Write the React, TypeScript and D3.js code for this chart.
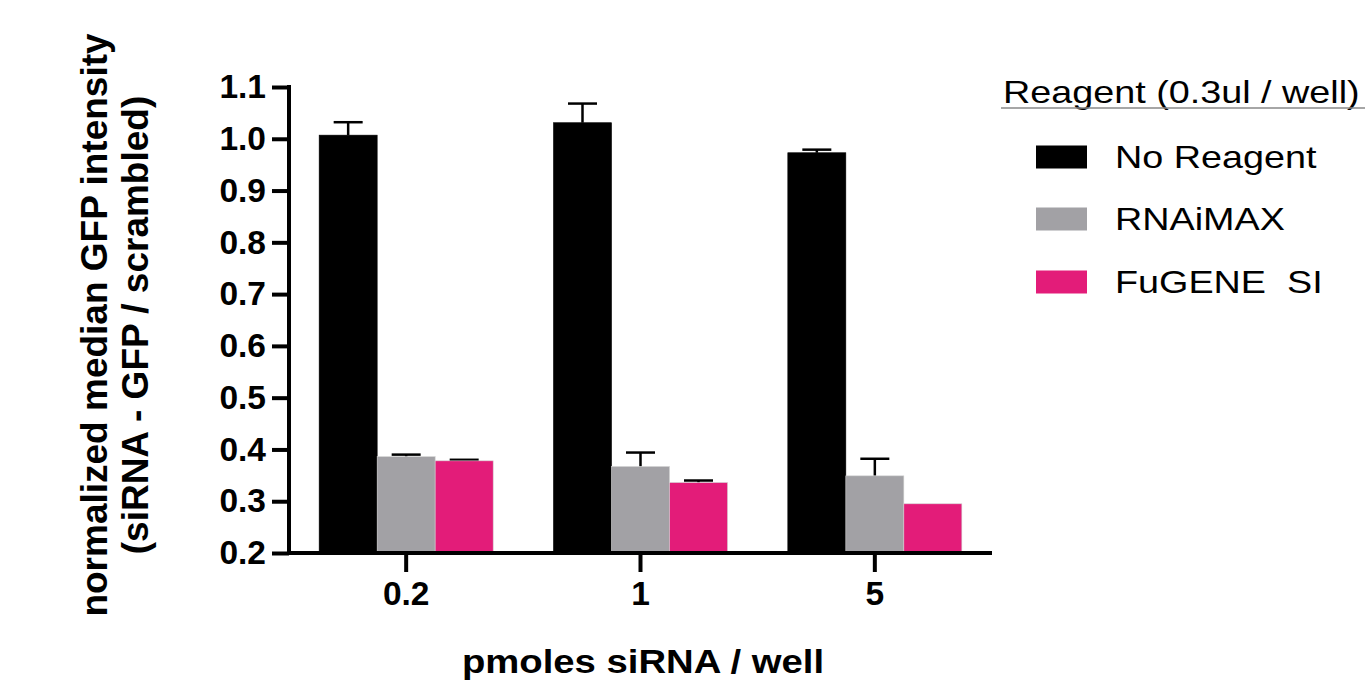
import React, { useEffect, useRef } from "react";
import * as d3 from "d3";

const doses = ["0.2", "1", "5"];
const reagents = ["No Reagent", "RNAiMAX", "FuGENE  SI"];
const colors = ["#000000", "#a2a1a5", "#e31c79"];
// means[reagent][dose]
const means = [
  [1.007, 1.031, 0.973],
  [0.386, 0.367, 0.349],
  [0.378, 0.336, 0.295],
];
// upper error bar ends
const errTops = [
  [1.032, 1.068, 0.979],
  [0.39, 0.394, 0.382],
  [0.38, 0.34, 0.295],
];
const yTicks = [0.2, 0.3, 0.4, 0.5, 0.6, 0.7, 0.8, 0.9, 1.0, 1.1];

const App = () => {
  const svgRef = useRef<SVGSVGElement>(null);

  useEffect(() => {
    const svg = d3.select(svgRef.current);
    svg.selectAll("*").remove();
    const font = "'Liberation Sans', Arial, sans-serif";

    const left = 289;
    const right = 992;
    const top = 87;
    const bottom = 553;

    const x = d3.scaleBand().domain(doses).range([left, right]).paddingInner(0).paddingOuter(0);
    const inner = d3.scaleBand().domain(reagents).range([0, x.bandwidth()]).paddingOuter(0.52).paddingInner(0);
    const y = d3.scaleLinear().domain([0.2, 1.1]).range([bottom, top]);

    const g = svg.append("g");

    // bars + upper error bars
    reagents.forEach((r, ri) => {
      doses.forEach((d, di) => {
        const bx = (x(d) as number) + (inner(r) as number);
        const bw = inner.bandwidth();
        const cx = bx + bw / 2;
        const et = errTops[ri][di];
        if (et > means[ri][di] + 0.001) {
          g.append("line")
            .attr("x1", cx).attr("x2", cx)
            .attr("y1", y(means[ri][di])).attr("y2", y(et))
            .attr("stroke", "#000").attr("stroke-width", 2.5);
        }
        if (et > means[ri][di]) {
          g.append("line")
            .attr("x1", cx - bw / 4).attr("x2", cx + bw / 4)
            .attr("y1", y(et)).attr("y2", y(et))
            .attr("stroke", "#000").attr("stroke-width", 2.5);
        }
        g.append("rect")
          .attr("x", bx)
          .attr("y", y(means[ri][di]))
          .attr("width", bw)
          .attr("height", bottom - y(means[ri][di]))
          .attr("fill", colors[ri])
          .attr("stroke", ri === 0 ? "#000" : "#d0d0d0")
          .attr("stroke-width", 0.6);
      });
    });

    // y axis
    const yAxis = svg.append("g")
      .attr("transform", `translate(${left},0)`)
      .call(d3.axisLeft(y).tickValues(yTicks).tickSize(17).tickPadding(6).tickFormat(d3.format(".1f")));
    yAxis.select(".domain").attr("stroke-width", 4).attr("d", `M0,${top - 2}V${bottom + 2}`);
    yAxis.selectAll(".tick line").attr("stroke-width", 4);
    yAxis.selectAll(".tick text")
      .attr("font-family", font).attr("font-weight", "bold").attr("font-size", 33.5).attr("fill", "#000");

    // x axis
    const xAxis = svg.append("g")
      .attr("transform", `translate(0,${bottom})`)
      .call(d3.axisBottom(x).tickSize(19).tickPadding(9));
    xAxis.select(".domain").attr("stroke-width", 4).attr("d", `M${left - 2},0H${right}`);
    xAxis.selectAll(".tick line").attr("stroke-width", 4);
    xAxis.selectAll(".tick text")
      .attr("font-family", font).attr("font-weight", "bold").attr("font-size", 33.5).attr("fill", "#000");

    // axis titles
    svg.append("text")
      .attr("transform", "translate(643,673) scale(1.16,1)")
      .attr("text-anchor", "middle")
      .attr("font-family", font).attr("font-weight", "bold").attr("font-size", 33)
      .text("pmoles siRNA / well");

    const yt = svg.append("text")
      .attr("transform", "translate(107,325) rotate(-90)")
      .attr("text-anchor", "middle")
      .attr("font-family", font).attr("font-weight", "bold").attr("font-size", 37);
    yt.append("tspan").attr("x", 0).attr("dy", 0).text("normalized median GFP intensity");
    yt.append("tspan").attr("x", 0).attr("dy", 41).text("(siRNA - GFP / scrambled)");

    // legend
    svg.append("text")
      .attr("transform", "translate(1003,103) scale(1.18,1)")
      .attr("font-family", font).attr("font-size", 32)
      .text("Reagent (0.3ul / well)");
    svg.append("line")
      .attr("x1", 1001).attr("x2", 1365).attr("y1", 108).attr("y2", 108)
      .attr("stroke", "#888").attr("stroke-width", 1.5);
    const rowY = [157, 219, 282];
    reagents.forEach((r, i) => {
      svg.append("rect")
        .attr("x", 1036).attr("y", rowY[i] - 11.5)
        .attr("width", 51).attr("height", 23)
        .attr("fill", colors[i]);
      svg.append("text")
        .attr("transform", `translate(1115,${rowY[i] + 11}) scale(1.18,1)`)
        .attr("font-family", font).attr("font-size", 32)
        .style("white-space", "pre")
        .text(r);
    });
  }, []);

  return (
    <svg ref={svgRef} width={1365} height={681} style={{ display: "block", position: "absolute", left: 0, top: 0, background: "#fff" }}></svg>
  );
};

export default App;
